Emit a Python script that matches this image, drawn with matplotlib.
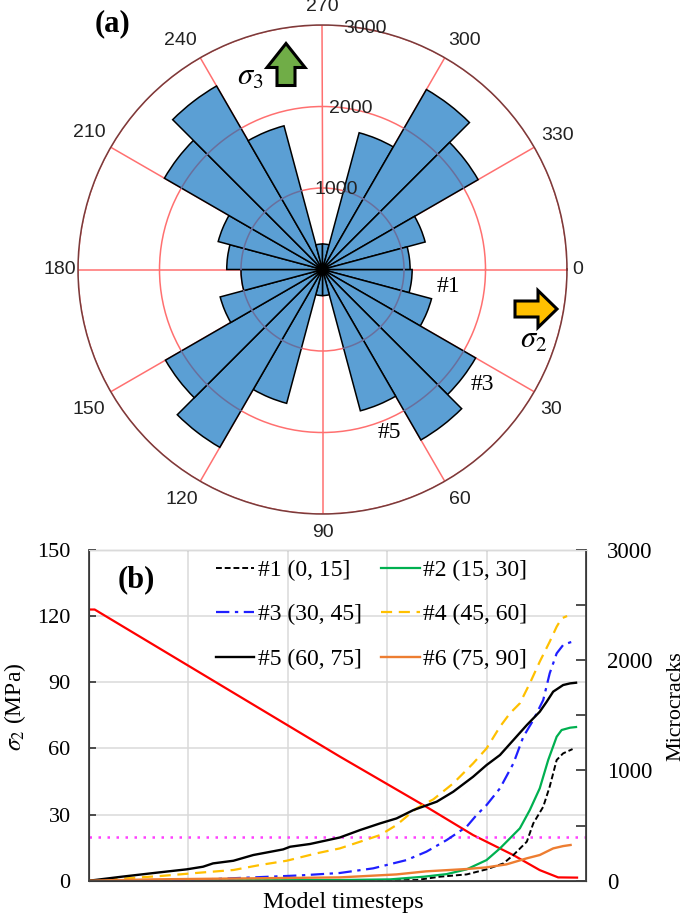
# Rose diagram (a) and stress / microcrack curves (b)
import numpy as np
import matplotlib
matplotlib.use('Agg')
import matplotlib.pyplot as plt
from matplotlib.patches import FancyArrow

## data area
bin_edges = list(range(0, 360, 15))
crack_counts = [1100, 1385, 2170, 2415, 1795, 320,
                320, 1700, 2520, 2225, 1300, 1000,
                1175, 1325, 2240, 2600, 1825, 313,
                313, 1737, 2550, 2205, 1304, 1075]
radial_ticks = [1000, 2000, 3000]
angle_ticks = [0, 30, 60, 90, 120, 150, 180, 210, 240, 270, 300, 330]

x5 = [0, 12, 66, 143, 197, 230, 250, 291, 331, 391, 405, 445, 505, 546, 586, 619, 653, 700, 733, 773, 800, 827, 854,
      881, 907, 921, 934, 954, 968, 980]
y5 = [0, 6, 36, 76, 103, 127, 157, 181, 233, 284, 308, 333, 392, 460, 520, 565, 641, 717, 807, 943, 1049, 1140, 1276,
      1412, 1533, 1624, 1715, 1775, 1790, 1796]
x4 = [0, 43, 143, 224, 291, 344, 398, 458, 505, 546, 586, 619, 659, 693, 733, 773, 800, 827, 847, 867, 887, 907, 927,
      941, 951, 962]
y4 = [0, 12, 42, 73, 97, 142, 181, 248, 293, 354, 414, 505, 656, 738, 883, 1064, 1200, 1397, 1518, 1609, 1790, 1987,
      2168, 2304, 2380, 2401]
x3 = [0, 170, 331, 425, 505, 572, 639, 679, 720, 760, 780, 800, 827, 854, 874, 894, 914, 927, 941, 954, 968, 981]
y3 = [0, 0, 30, 48, 70, 112, 187, 263, 369, 490, 596, 686, 838, 1064, 1306, 1457, 1639, 1881, 2062, 2138, 2162, 2177]
x2 = [0, 505, 606, 673, 720, 760, 800, 827, 847, 867, 887, 907, 924, 941, 951, 968, 980]
y2 = [0, 6, 12, 36, 60, 103, 187, 293, 384, 475, 641, 838, 1095, 1306, 1367, 1388, 1394]
x1 = [0, 500, 659, 706, 760, 800, 834, 854, 881, 894, 914, 927, 941, 954, 973]
y1 = [0, 0, 6, 36, 57, 103, 157, 233, 354, 520, 671, 853, 1095, 1155, 1194]
x6 = [0, 130, 505, 619, 679, 760, 800, 840, 881, 907, 934, 954, 969]
y6 = [0, 12, 30, 57, 85, 106, 121, 148, 203, 233, 293, 314, 324]
x_stress = [0, 12, 505, 679, 773, 854, 907, 944, 982]
y_stress = [123, 123, 56.3, 33.5, 20.7, 11.6, 4.8, 1.5, 1.4]
stress_limit = 20

plt.rcParams['font.family'] = ['Liberation Serif', 'DejaVu Sans']
plt.rcParams['mathtext.fontset'] = 'stix'
W, H = 685, 917
fig = plt.figure(figsize=(W / 100, H / 100), dpi=100)

## (a) rose diagram
ax_a = fig.add_axes([78 / W, (H - 514) / H, 489 / W, 489 / H], projection='polar')
ax_a.set_theta_zero_location('E')
ax_a.set_theta_direction(-1)
ax_a.set_axisbelow(True)
theta = np.radians(bin_edges)
ax_a.bar(theta, crack_counts, width=np.radians(15), align='edge', color='#5B9FD4', edgecolor='black',
         linewidth=1.1, zorder=3)
# rings show through the bars as a darker line
for start, count in zip(bin_edges, crack_counts):
    for r in radial_ticks:
        if count > r:
            arc = np.radians(np.linspace(start, start + 15, 10))
            ax_a.plot(arc, np.full(10, r), color='#6A6F9C', lw=1.1, zorder=4)
ax_a.set_ylim(0, 3000)
ax_a.set_rgrids(radial_ticks, labels=['', '', ''])
# radial labels sit on top of the bars
for r in radial_ticks:
    ax_a.text(np.radians(280), r, str(r), family='Liberation Sans', fontsize=14, color='#222222', ha='center',
              va='center', zorder=6)
ax_a.set_thetagrids(angle_ticks, labels=[''] * len(angle_ticks))
# angle labels are set by hand, they do not sit exactly on their spokes
label_angles = [0, 31.4, 59.2, 90, 121.5, 149.1, 180, 210.3, 238.2, 270, 301.8, 330.3]
label_radii = [3135, 3290, 3290, 3225, 3310, 3335, 3221, 3320, 3300, 3225, 3300, 3320]
for a, la, lr in zip(angle_ticks, label_angles, label_radii):
    ax_a.text(np.radians(la), lr, str(a), family='Liberation Sans', fontsize=14, color='#222222', ha='center',
              va='center', clip_on=False)
ax_a.grid(True, color='#FF7070', lw=1.1)
ax_a.spines['polar'].set_color('#7A3B3B')
ax_a.spines['polar'].set_linewidth(1.1)

## (b) curves
ax_b = fig.add_axes([88.7 / W, (H - 880.7) / H, 497.3 / W, 330.7 / H])
ax_b.set_xlim(0, 1000)
ax_b.set_ylim(0, 150)
ax_b.set_xticks([200, 400, 600, 800])
ax_b.set_yticks([0, 30, 60, 90, 120, 150])
ax_b.tick_params(axis='x', length=0, labelbottom=False)
ax_b.tick_params(axis='y', direction='in', length=5, width=1.3, color='#404040', labelsize=16, pad=13)
ax_b.grid(True, color='#DADADA', lw=1.1)
ax_b.set_axisbelow(True)
ax_b.set_xlabel('Model timesteps', fontsize=17.4)
ax_b.xaxis.set_label_coords(0.511, -0.035)
ax_b.set_ylabel(r'$\sigma_2$ (MPa)', fontsize=17)
ax_b.yaxis.set_label_coords(-0.122, 0.525)

ax_r = ax_b.twinx()
ax_r.set_ylim(0, 3000)
ax_r.set_yticks([0, 500, 1000, 1500, 2000, 2500, 3000], ['0', '', '1000', '', '2000', '', '3000'])
ax_r.tick_params(axis='y', direction='in', length=7, width=1.3, color='#404040', labelsize=16.5, pad=15)
ax_r.set_ylabel('Microcracks', fontsize=15.8)
ax_r.yaxis.set_label_coords(1.161, 0.528)

line1, = ax_r.plot(x1, y1, color='black', ls=(0, (3, 1.5)), lw=1.4, label='#1 (0, 15]')
line2, = ax_r.plot(x2, y2, color='#00B050', lw=1.6, label='#2 (15, 30]')
line3, = ax_r.plot(x3, y3, color='#1F1FFF', ls=(0, (6, 2.5, 1.5, 2.5)), lw=1.6, label='#3 (30, 45]')
line4, = ax_r.plot(x4, y4, color='#FFC000', ls=(0, (5, 3)), lw=1.6, label='#4 (45, 60]')
line5, = ax_r.plot(x5, y5, color='black', lw=1.7, label='#5 (60, 75]')
line6, = ax_r.plot(x6, y6, color='#ED7D31', lw=1.7, label='#6 (75, 90]')
ax_b.plot(x_stress, y_stress, color='#FF0000', lw=1.6)
ax_b.axhline(stress_limit, color='#FF40FF', ls=(0, (1, 2.6)), lw=1.8)

ax_r.legend(handles=[line1, line3, line5, line2, line4, line6], ncol=2, frameon=False, fontsize=17,
            loc='upper left', bbox_to_anchor=(0.255, 0.972), borderaxespad=0, borderpad=0, handlelength=1.65,
            handletextpad=0.13, labelspacing=0.98, columnspacing=0.81)

for side in ['left', 'right', 'bottom']:
    ax_r.spines[side].set_color('#404040')
    ax_r.spines[side].set_linewidth(1.3)
ax_r.spines['top'].set_color('#DADADA')

## annotations, in picture pixels
over = fig.add_axes([0, 0, 1, 1], facecolor='none')
over.set_xlim(0, W)
over.set_ylim(H, 0)
over.axis('off')
over.add_patch(FancyArrow(286, 85.5, 0, -42, width=18, head_width=38, head_length=24, length_includes_head=True,
                          facecolor='#70AD47', edgecolor='black', lw=2.2))
over.add_patch(FancyArrow(515, 309, 42, 0, width=16, head_width=37, head_length=19, length_includes_head=True,
                          facecolor='#FFC000', edgecolor='black', lw=2.2))
over.text(250, 77, r'$\sigma_3$', fontsize=22, ha='center', va='center')
over.text(534, 340, r'$\sigma_2$', fontsize=22, ha='center', va='center')
over.text(448, 287, '#1', fontsize=17, ha='center', va='center')
over.text(482, 385, '#3', fontsize=17, ha='center', va='center')
over.text(389, 432, '#5', fontsize=17, ha='center', va='center')
over.text(113, 24, '(a)', fontsize=22, fontweight='bold', ha='center', va='center')
over.text(136, 580, '(b)', fontsize=22, fontweight='bold', ha='center', va='center')

fig.savefig('out.png', dpi=100)
